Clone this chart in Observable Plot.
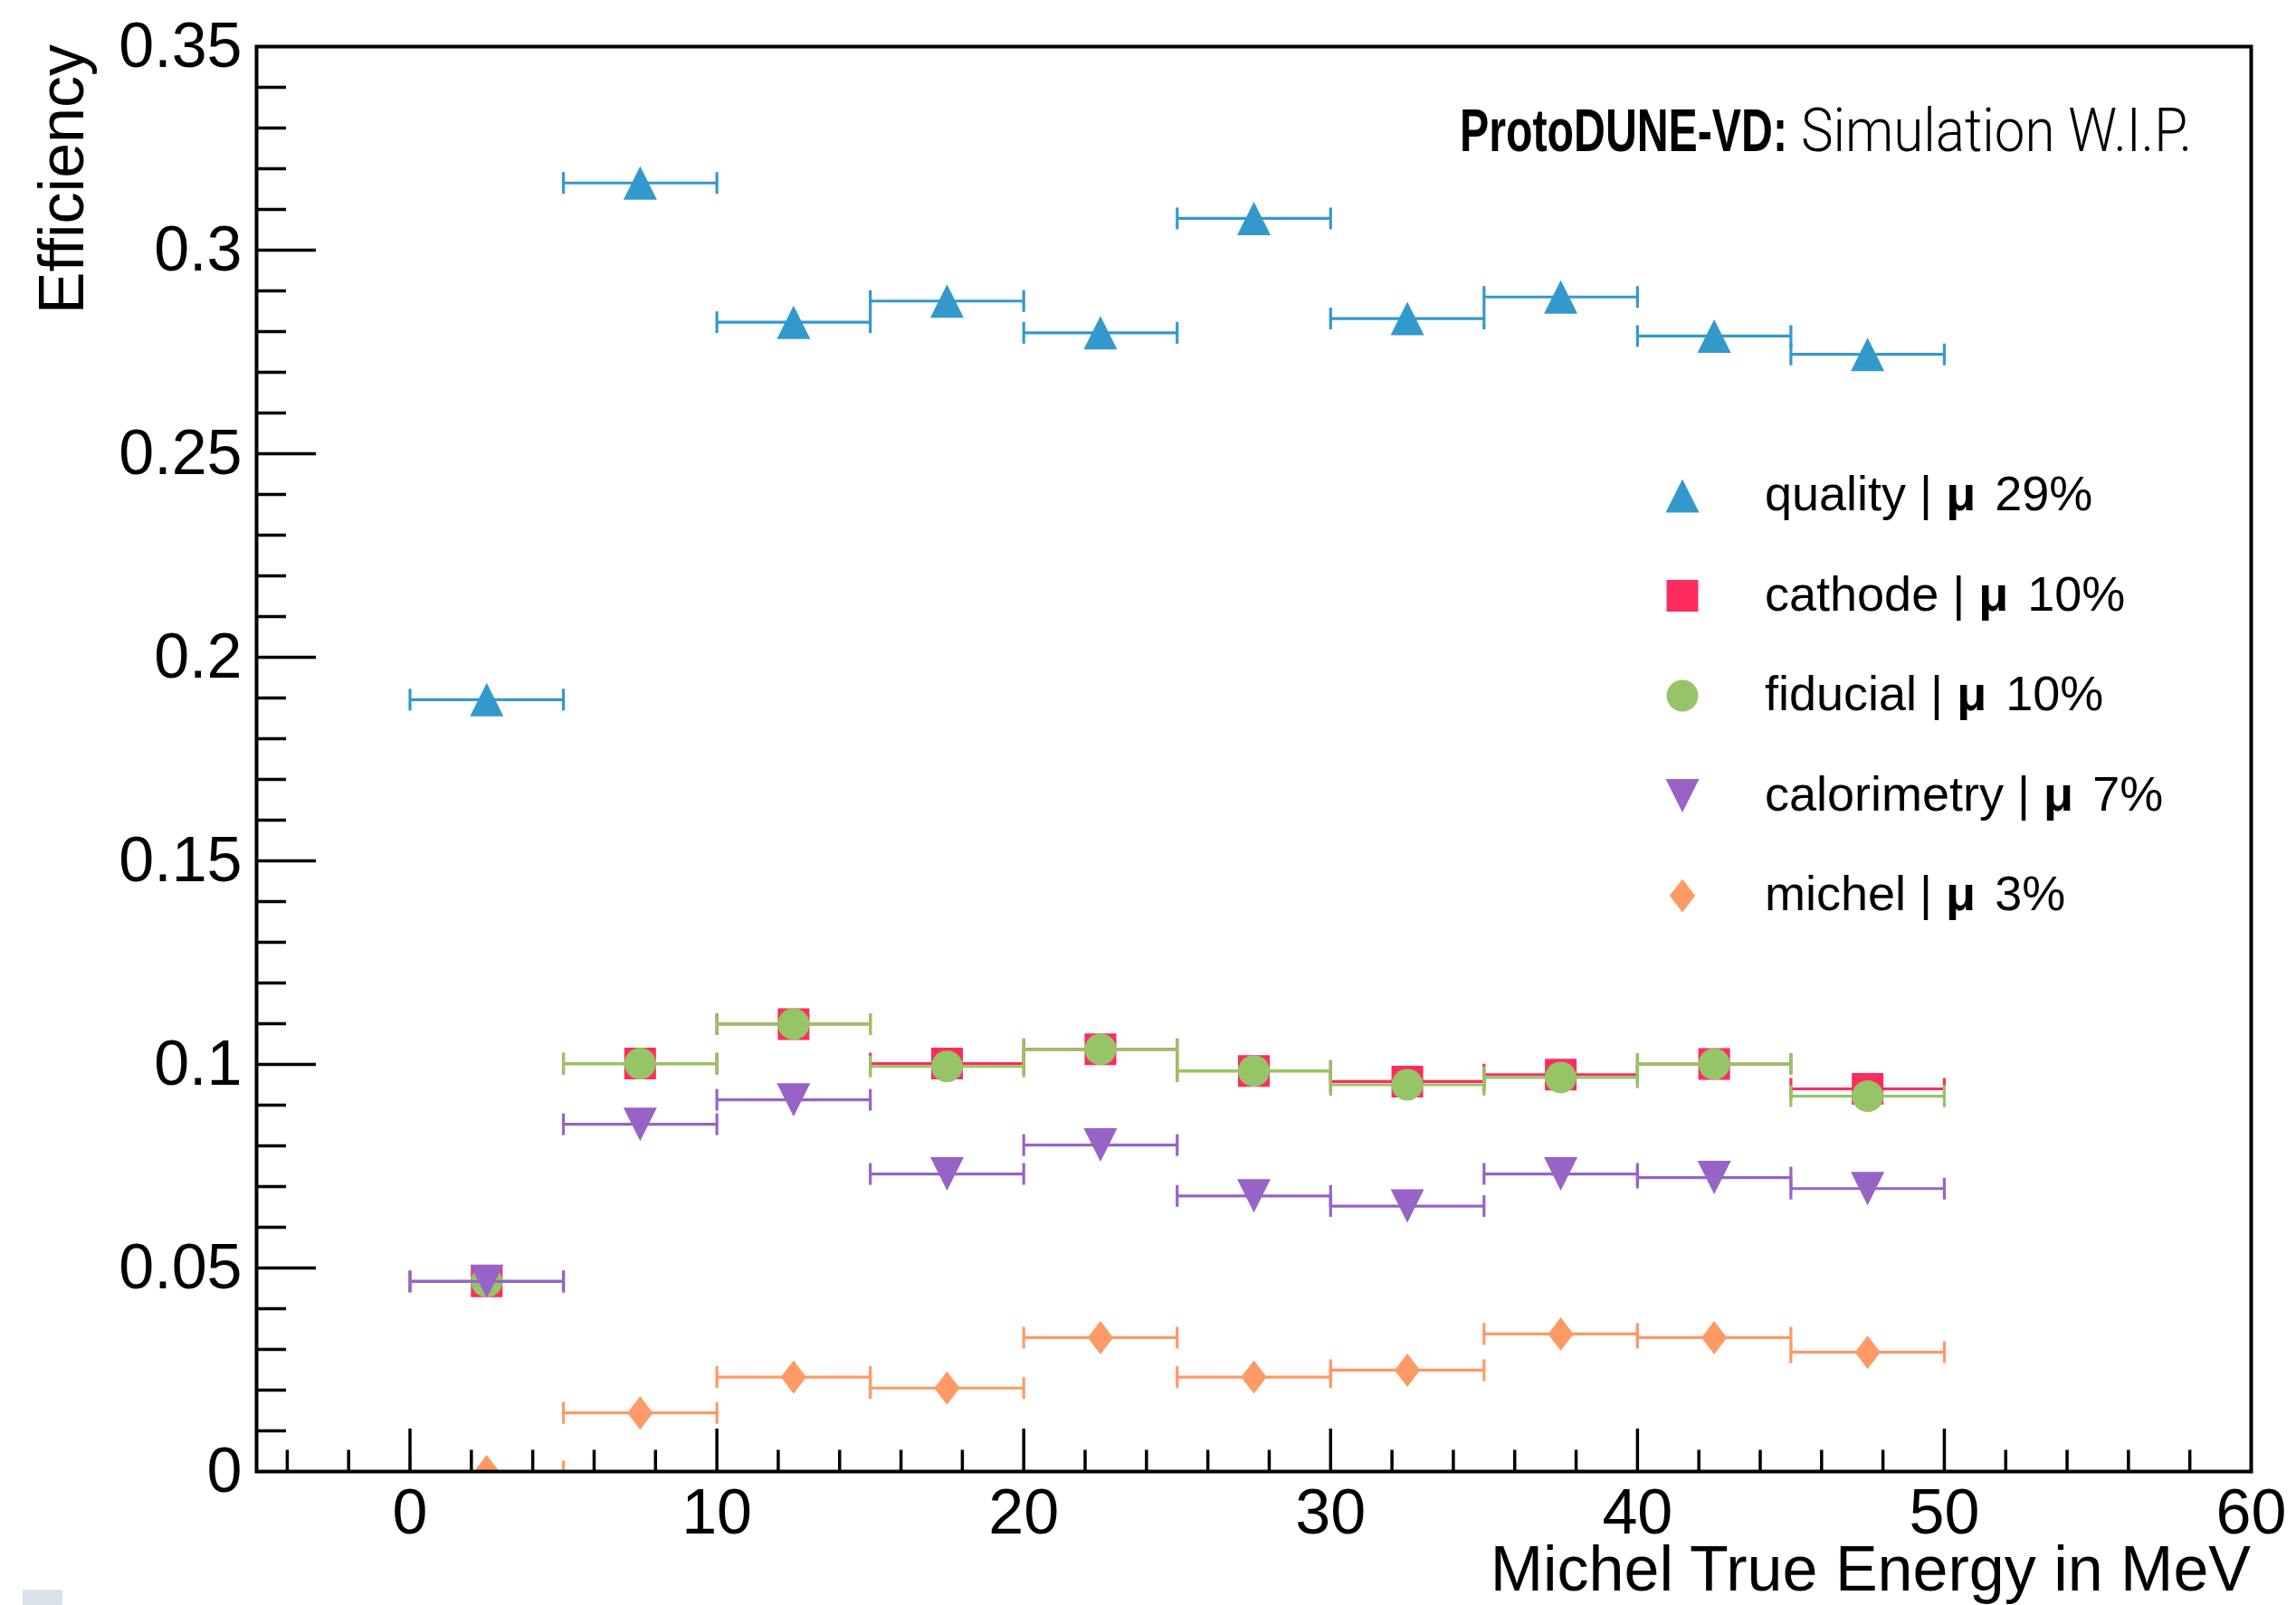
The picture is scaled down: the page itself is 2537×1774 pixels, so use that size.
<!DOCTYPE html>
<html>
<head>
<meta charset="utf-8">
<script src="https://cdn.jsdelivr.net/npm/d3@7"></script>
<script src="https://cdn.jsdelivr.net/npm/@observablehq/plot@0.6"></script>
<style>
  html, body { margin: 0; padding: 0; background: #ffffff; }
  #wrap { position: relative; width: 2537px; height: 1774px; overflow: hidden; background: #ffffff; }
  #wrap svg { display: block; }
  #chip { position: absolute; left: 25px; top: 1757px; width: 44px; height: 17px; background: #d9e3eb; }
</style>
</head>
<body>
<div id="wrap"><div id="chip"></div></div>
<script>
// ---------------- data ----------------
const binCenters = [2.5, 7.5, 12.5, 17.5, 22.5, 27.5, 32.5, 37.5, 42.5, 47.5];
const binLow     = [0, 5, 10, 15, 20, 25, 30, 35, 40, 45];
const binHigh    = [5, 10, 15, 20, 25, 30, 35, 40, 45, 50];

const quality     = [0.1896, 0.3165, 0.2823, 0.2875, 0.2797, 0.3078, 0.2832, 0.2885, 0.2789, 0.2744];
const cathode     = [0.0467, 0.1002, 0.1099, 0.1002, 0.1037, 0.0984, 0.0958, 0.0975, 0.1001, 0.0940];
const fiducial    = [0.0467, 0.1002, 0.1099, 0.0995, 0.1037, 0.0984, 0.0950, 0.0968, 0.1001, 0.0922];
const calorimetry = [0.0467, 0.0853, 0.0913, 0.0731, 0.0802, 0.0677, 0.0652, 0.0731, 0.0722, 0.0695];
const michel      = [0.0000, 0.0144, 0.0232, 0.0205, 0.0329, 0.0232, 0.0249, 0.0338, 0.0329, 0.0293];

const seriesNames  = ["quality", "cathode", "fiducial", "calorimetry", "michel"];
const seriesValues = [quality, cathode, fiducial, calorimetry, michel];
const seriesMeans  = ["29%", "10%", "10%", "7%", "3%"];
const seriesColors = ["#3399cc", "#ff2b5f", "#95c566", "#9763c7", "#ff9966"];

const xLabelTicks = [0, 10, 20, 30, 40, 50, 60];
const yLabelTicks = [0, 0.05, 0.1, 0.15, 0.2, 0.25, 0.3, 0.35];
const xMajorTicks = [0, 10, 20, 30, 40, 50];
const xMinorTicks = d3.range(-4, 60, 2).filter(v => v % 10 !== 0);
const yMajorTicks = [0.05, 0.1, 0.15, 0.2, 0.25, 0.3];
const yMinorTicks = d3.range(1, 35).filter(v => v % 5 !== 0).map(v => v / 100);

const titleBold  = "ProtoDUNE-VD:";
const titleLight = "Simulation W.I.P.";
const xTitle = "Michel True Energy in MeV";
const yTitle = "Efficiency";

// ---------------- layout ----------------
const W = 2537, H = 1774;
const mL = 283, mR = 50, mT = 51, mB = 148;
const plotW = W - mL - mR, plotH = H - mT - mB;

// ---------------- symbols ----------------
const half = size => Math.sqrt(size / Math.PI);
const triUp   = {draw(c, s) { const r = half(s); c.moveTo(0, -r); c.lineTo(r, r); c.lineTo(-r, r); c.closePath(); }};
const triDown = {draw(c, s) { const r = half(s); c.moveTo(0, r); c.lineTo(r, -r); c.lineTo(-r, -r); c.closePath(); }};
const square  = {draw(c, s) { const r = half(s); c.moveTo(-r, -r); c.lineTo(r, -r); c.lineTo(r, r); c.lineTo(-r, r); c.closePath(); }};
const circle  = {draw(c, s) { const r = half(s); c.moveTo(r, 0); c.arc(0, 0, r, 0, 2 * Math.PI); }};
const diamond = {draw(c, s) { const r = half(s), w = 0.76 * r; c.moveTo(0, -r); c.lineTo(w, 0); c.lineTo(0, r); c.lineTo(-w, 0); c.closePath(); }};
const capSym  = {draw(c, s) { const r = half(s); c.moveTo(0, -r); c.lineTo(0, r); }};

const seriesSymbols = [triUp, square, circle, triDown, diamond];
const seriesRadius  = [18.5, 17.5, 17.5, 18.5, 18.5];

const rowsOf = vals => binCenters.map((c, i) => ({c, lo: binLow[i], hi: binHigh[i], v: vals[i]}));

const dataMarks = [];
seriesValues.forEach((vals, k) => {
  const rows = rowsOf(vals);
  const col = seriesColors[k];
  dataMarks.push(
    Plot.ruleY(rows, {y: "v", x1: "lo", x2: "hi", stroke: col, strokeWidth: 3.2, clip: true}),
    Plot.dot(rows, {x: "lo", y: "v", symbol: capSym, r: 12, stroke: col, strokeWidth: 3.2, fill: "none", clip: true}),
    Plot.dot(rows, {x: "hi", y: "v", symbol: capSym, r: 12, stroke: col, strokeWidth: 3.2, fill: "none", clip: true}),
    Plot.dot(rows, {x: "c", y: "v", symbol: seriesSymbols[k], r: seriesRadius[k], fill: col, stroke: "none", clip: true})
  );
});

const fmtY = d => d === 0 ? "0" : String(+d.toFixed(2));

const chart = Plot.plot({
  width: W, height: H,
  marginLeft: mL, marginRight: mR, marginTop: mT, marginBottom: mB,
  x: {domain: [-5, 60]},
  y: {domain: [0, 0.35]},
  style: {background: "#ffffff", color: "#000000", fontFamily: "'Liberation Sans', Arial, Helvetica, sans-serif"},
  marks: [
    ...dataMarks,
    Plot.tickX(xMinorTicks, {x: d => d, insetTop: plotH - 23.5, stroke: "#000", strokeWidth: 3.5}),
    Plot.tickX(xMajorTicks, {x: d => d, insetTop: plotH - 47, stroke: "#000", strokeWidth: 3.5}),
    Plot.tickY(yMinorTicks, {y: d => d, insetRight: plotW - 33, stroke: "#000", strokeWidth: 3.5}),
    Plot.tickY(yMajorTicks, {y: d => d, insetRight: plotW - 66, stroke: "#000", strokeWidth: 3.5}),
    Plot.frame({stroke: "#000", strokeWidth: 4}),
    Plot.axisX(xLabelTicks, {tickSize: 0, tickPadding: 19, fontSize: 70, label: null, tickFormat: d => String(d)}),
    Plot.axisY(yLabelTicks, {tickSize: 0, tickPadding: 16, fontSize: 70, label: null, tickFormat: fmtY})
  ]
});

document.getElementById("wrap").prepend(chart);
const svg = d3.select(chart);

// title
svg.append("text").attr("x", 1613).attr("y", 167).attr("font-size", 66).attr("fill", "#000")
  .attr("text-anchor", "start").attr("font-weight", "bold")
  .attr("font-family", "'Liberation Sans', Arial, sans-serif")
  .attr("textLength", 362).attr("lengthAdjust", "spacingAndGlyphs").text(titleBold);
svg.append("text").attr("x", 1990).attr("y", 167).attr("font-size", 66).attr("fill", "#000")
  .attr("text-anchor", "start").attr("font-weight", 300)
  .attr("font-family", "Roboto, 'Liberation Sans', Arial, sans-serif")
  .attr("textLength", 432).attr("lengthAdjust", "spacingAndGlyphs").text(titleLight);

// axis titles
svg.append("text").attr("x", W - mR).attr("y", 1758).attr("text-anchor", "end")
  .attr("font-size", 70).attr("fill", "#000").text(xTitle);
svg.append("text").attr("transform", "translate(92,49) rotate(-90)").attr("text-anchor", "end")
  .attr("font-size", 70).attr("fill", "#000").text(yTitle);

// legend
seriesNames.forEach((name, i) => {
  const cy = 548 + i * 110.5;
  const r = seriesRadius[i];
  svg.append("path").attr("transform", `translate(1859,${cy})`)
    .attr("d", d3.symbol(seriesSymbols[i], Math.PI * r * r)())
    .attr("fill", seriesColors[i]);
  const tx = svg.append("text").attr("x", 1950).attr("y", cy + 16).attr("font-size", 54)
    .attr("fill", "#000").attr("text-anchor", "start");
  tx.append("tspan").text(name + " | ");
  tx.append("tspan").attr("font-weight", "bold").text("μ");
  tx.append("tspan").attr("dx", 6).text(" " + seriesMeans[i]);
});
</script>
</body>
</html>
